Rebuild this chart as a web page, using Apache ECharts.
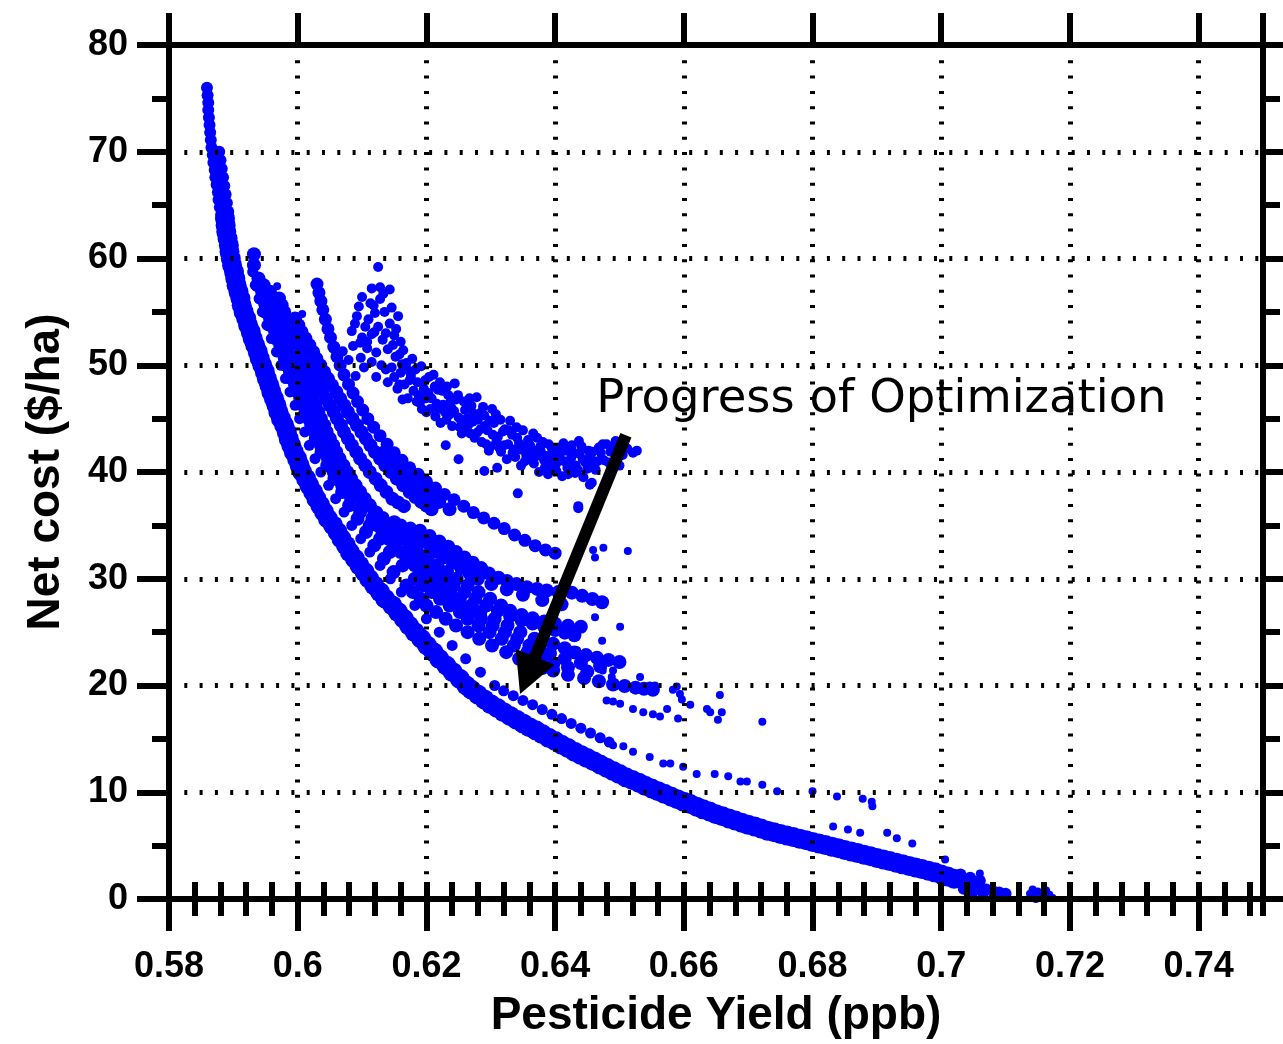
<!DOCTYPE html>
<html>
<head>
<meta charset="utf-8">
<script src="https://cdn.jsdelivr.net/npm/echarts@6/dist/echarts.min.js"></script>
<style>
html,body{margin:0;padding:0;background:#fff;}
#chart{width:1283px;height:1044px;}
</style>
</head>
<body>
<div id="chart"></div>
<script>
// ---- axis ticks ----
var xTicks = [0.58, 0.60, 0.62, 0.64, 0.66, 0.68, 0.70, 0.72, 0.74];
var yTicks = [0, 10, 20, 30, 40, 50, 60, 70, 80];

// ---- final front (dense lowest band) ----
var frontA = [[0.5887,63.75],[0.5888,63.125],[0.5889,62.5],[0.5891,61.875],[0.5893,61.25],[0.5894,60.625],[0.5896,60],[0.5898,59.375],[0.5901,58.75],[0.5903,58.125],[0.5905,57.5],[0.5908,56.875],[0.5911,56.25],[0.5913,55.625],[0.5916,55],[0.5920,54.375],[0.5923,53.75],[0.5927,53.125],[0.5930,52.5],[0.5934,51.875],[0.5938,51.25],[0.5941,50.625],[0.5945,50],[0.5949,49.375],[0.5952,48.75],[0.5956,48.125],[0.5959,47.5],[0.5963,46.875],[0.5967,46.25],[0.5970,45.625],[0.5974,45],[0.5979,44.375],[0.5983,43.75],[0.5986,43.125],[0.5990,42.5],[0.5994,41.875],[0.5999,41.25],[0.6003,40.625],[0.6007,40],[0.6013,39.375],[0.6018,38.75],[0.6024,38.125],[0.6029,37.5],[0.6035,36.875],[0.6041,36.25],[0.6047,35.625],[0.6055,35],[0.6062,34.375],[0.6068,33.75],[0.6075,33.125],[0.6081,32.5],[0.6089,31.875],[0.6096,31.25],[0.6104,30.625],[0.6111,30],[0.6119,29.375],[0.6128,28.75],[0.6136,28.125],[0.6147,27.5],[0.6156,26.875],[0.6165,26.25],[0.6173,25.625],[0.6182,25],[0.6192,24.375],[0.6201,23.75],[0.6211,23.125],[0.6220,22.5],[0.6231,21.875],[0.6241,21.25],[0.6252,20.625],[0.6262,20],[0.627,19.6],[0.628,19.15],[0.629,18.7],[0.630,18.25],[0.631,17.9],[0.632,17.5],[0.633,17.15],[0.634,16.8],[0.635,16.45],[0.636,16.1],[0.637,15.8],[0.638,15.45],[0.639,15.1],[0.640,14.8],[0.641,14.45],[0.642,14.15],[0.643,13.8],[0.644,13.5],[0.645,13.2],[0.646,12.9],[0.647,12.6],[0.648,12.3],[0.649,12.0],[0.650,11.7],[0.651,11.4],[0.652,11.15],[0.653,10.9],[0.654,10.6],[0.655,10.35],[0.656,10.1],[0.657,9.85],[0.658,9.6],[0.659,9.35],[0.660,9.1],[0.661,8.9],[0.662,8.65],[0.663,8.4],[0.664,8.2],[0.665,7.95],[0.666,7.75],[0.667,7.55],[0.668,7.35],[0.669,7.15],[0.670,6.95],[0.671,6.8],[0.672,6.6],[0.673,6.4],[0.674,6.25],[0.675,6.1],[0.676,5.95],[0.677,5.8],[0.678,5.65],[0.679,5.5],[0.680,5.35],[0.681,5.2],[0.682,5.05],[0.683,4.9],[0.684,4.75],[0.685,4.6],[0.686,4.45],[0.687,4.3],[0.688,4.15],[0.689,4.0],[0.690,3.85],[0.691,3.7],[0.692,3.55],[0.693,3.4],[0.694,3.25],[0.695,3.1],[0.696,2.95],[0.697,2.8],[0.698,2.65],[0.699,2.5],[0.700,2.3],[0.701,2.1],[0.702,1.9]];
var frontA_tip = [[0.5859,76.0],[0.5860,75.3],[0.5861,74.6],[0.5861,73.9],[0.5862,73.2],[0.5863,72.5],[0.5864,71.8],[0.5865,71.1],[0.5866,70.4],[0.5868,69.7],[0.5869,69.0],[0.5871,68.3],[0.5872,67.6],[0.5874,66.9],[0.5876,66.2],[0.5877,65.5],[0.5879,64.8],[0.5881,64.1],[0.5883,63.4],[0.5878,70.0],[0.5880,69.2],[0.5882,68.4],[0.5884,67.6],[0.5886,66.8],[0.5888,66.0],[0.5890,65.2],[0.5892,64.4]];
var frontA_end = [[0.7030,1.65],[0.7040,1.45],[0.7050,1.25],[0.7060,1.05],[0.7070,0.9],[0.7080,0.75],[0.7090,0.6],[0.7100,0.5],[0.7035,0.95],[0.7050,0.75],[0.7065,0.6],[0.7030,2.3],[0.7045,2.0],[0.7060,1.7]];

// ---- earlier generation fronts (strands) ----
var strandB0 = [[0.5930,58.75],[0.5934,57.5],[0.5940,56.25],[0.5945,55],[0.5952,53.75],[0.5959,52.5],[0.5967,51.25],[0.5974,50],[0.5981,48.75],[0.5988,47.5],[0.5996,46.25],[0.6003,45],[0.6011,43.75],[0.6018,42.5],[0.6027,41.25],[0.6036,40],[0.6048,38.75],[0.6059,37.5],[0.6072,36.25],[0.6084,35],[0.6098,33.75],[0.6112,32.5],[0.6128,31.25],[0.6144,30],[0.6161,28.75],[0.6182,27.5],[0.6200,26.25],[0.6220,25],[0.6240,23.75],[0.6261,22.5],[0.6284,21.25],[0.6306,20],[0.6320,19.5],[0.6335,19.05],[0.6350,18.6],[0.6365,18.2],[0.6380,17.75],[0.6395,17.3],[0.6410,16.9],[0.6425,16.45],[0.6440,16.0],[0.6455,15.55],[0.6470,15.1],[0.6484,14.7]];
var strandB1 = [[0.5932,60.4],[0.5932,59.375],[0.5939,58.125],[0.5945,56.875],[0.5950,55.625],[0.5957,54.375],[0.5965,53.125],[0.5973,51.875],[0.5980,50.625],[0.5988,49.375],[0.5996,48.125],[0.6004,46.875],[0.6012,45.625],[0.6021,44.375],[0.6028,43.125],[0.6037,41.875],[0.6046,40.625],[0.6057,39.375],[0.6069,38.125],[0.6080,36.875],[0.6093,35.625],[0.6106,34.375],[0.6119,33.125],[0.6134,31.875],[0.6149,30.625],[0.6169,29.375],[0.6179,28.75],[0.6191,28.125],[0.6200,27.5],[0.6215,26.875],[0.6230,26.25],[0.6246,25.625],[0.6264,25],[0.6282,24.375],[0.6302,23.75],[0.6324,23.125],[0.6344,22.5],[0.6365,21.9],[0.6381,21.65],[0.6397,21.4],[0.6420,21.0],[0.6445,20.7],[0.6468,20.4],[0.6490,20.1],[0.6508,19.95],[0.6525,19.8],[0.6538,19.7],[0.6552,19.6]];
var strandBf1 = [[0.5938,57.5],[0.5944,56.25],[0.5950,55],[0.5958,53.75],[0.5966,52.5],[0.5975,51.25],[0.5983,50],[0.5991,48.75],[0.6000,47.5],[0.6009,46.25],[0.6017,45],[0.6027,43.75],[0.6036,42.5],[0.6047,41.25],[0.6056,40],[0.6069,38.75],[0.6083,37.5],[0.6097,36.25],[0.6112,35],[0.6128,33.75],[0.6143,32.5],[0.6163,31.25],[0.6182,30],[0.6194,29.375],[0.6208,28.75],[0.6221,28.125],[0.6236,27.5],[0.6252,26.875],[0.6264,26.25],[0.6281,25.625],[0.6298,25],[0.6317,24.375],[0.6336,23.75],[0.6357,23.125],[0.6378,22.5],[0.6397,22.0],[0.6420,21.7],[0.6450,21.3]];
var strandBm2 = [[0.6194,30.0],[0.6208,29.375],[0.6222,28.75],[0.6237,28.125],[0.6253,27.5],[0.6269,26.875],[0.6285,26.25],[0.6303,25.625],[0.6322,25.0],[0.6341,24.375],[0.6360,23.75],[0.6376,23.3],[0.6392,23.0],[0.6415,22.5],[0.6440,22.1],[0.6470,21.8]];
var strandB2 = [[0.5945,56.875],[0.5952,55.625],[0.5961,54.375],[0.5969,53.125],[0.5978,51.875],[0.5987,50.625],[0.5995,49.375],[0.6004,48.125],[0.6012,46.875],[0.6021,45.625],[0.6031,44.375],[0.6040,43.125],[0.6050,41.875],[0.6061,40.625],[0.6073,39.375],[0.6086,38.125],[0.6101,36.875],[0.6116,35.625],[0.6124,35.0],[0.6132,34.375],[0.6141,33.75],[0.6150,33.125],[0.6160,32.5],[0.6170,31.875],[0.6182,31.25],[0.6194,30.625],[0.6205,30],[0.6221,29.375],[0.6237,28.75],[0.6252,28.125],[0.6270,27.5],[0.6284,26.875],[0.6306,26.25],[0.6326,25.625],[0.6346,25],[0.6368,24.375],[0.6382,24.15],[0.6397,23.9],[0.6415,23.5],[0.6430,23.1],[0.6448,22.85],[0.6465,22.6],[0.6483,22.4],[0.6500,22.2]];
var strandBm3 = [[0.6173,32.5],[0.6186,31.875],[0.6200,31.25],[0.6213,30.625],[0.6226,30.0],[0.6242,29.375],[0.6259,28.75],[0.6276,28.125],[0.6293,27.5],[0.6311,27.0],[0.6330,26.5],[0.6348,26.1],[0.6365,25.8],[0.6383,25.5],[0.6400,25.2],[0.6415,24.95],[0.6430,24.7]];
var strandBf2 = [[0.5947,57.5],[0.5951,56.875],[0.5955,56.25],[0.5959,55.625],[0.5962,55],[0.5967,54.375],[0.5971,53.75],[0.5975,53.125],[0.5979,52.5],[0.5984,51.875],[0.5988,51.25],[0.5993,50.625],[0.5997,50],[0.6002,49.375],[0.6006,48.75],[0.6011,48.125],[0.6015,47.5],[0.6020,46.875],[0.6025,46.25],[0.6030,45.625],[0.6034,45],[0.6039,44.375],[0.6044,43.75],[0.6049,43.125],[0.6053,42.5],[0.6059,41.875],[0.6064,41.25],[0.6069,40.625],[0.6074,40],[0.6081,39.375],[0.6088,38.75],[0.6095,38.125],[0.6102,37.5],[0.6111,36.875],[0.6119,36.25],[0.6127,35.625],[0.6135,35],[0.6148,34.375],[0.6161,33.75],[0.6174,33.125],[0.6186,32.5],[0.6202,31.875],[0.6217,31.25],[0.6232,30.625],[0.6247,30],[0.6264,29.375],[0.6281,28.75],[0.6299,28.125],[0.6316,27.5],[0.6330,27.0],[0.6348,26.6],[0.6365,26.3],[0.6383,26.0],[0.6400,25.8],[0.6420,25.6],[0.6440,25.5]];
var strandBm4 = [[0.6148,35.0],[0.6164,34.5],[0.6180,34.0],[0.6193,33.5],[0.6206,33.0],[0.6217,32.5],[0.6228,32.0],[0.6241,31.5],[0.6254,31.0],[0.6267,30.5],[0.6280,30.0],[0.6301,29.5],[0.6325,29.0],[0.6350,28.5],[0.6380,28.0],[0.6410,27.6]];
var strandB4 = [[0.5957,56.875],[0.5960,56.25],[0.5964,55.625],[0.5968,55],[0.5973,54.375],[0.5977,53.75],[0.5981,53.125],[0.5985,52.5],[0.5989,51.875],[0.5994,51.25],[0.5998,50.625],[0.6002,50],[0.6006,49.375],[0.6010,48.75],[0.6015,48.125],[0.6019,47.5],[0.6023,46.875],[0.6028,46.25],[0.6032,45.625],[0.6036,45],[0.6041,44.375],[0.6045,43.75],[0.6050,43.125],[0.6055,42.5],[0.6060,41.875],[0.6065,41.25],[0.6071,40.625],[0.6077,40],[0.6083,39.375],[0.6090,38.75],[0.6097,38.125],[0.6104,37.5],[0.6112,36.875],[0.6122,36.2],[0.6132,35.7],[0.6150,35.3],[0.6160,35.0],[0.6175,34.7],[0.6190,34.5],[0.6205,34.0],[0.6220,33.5],[0.6234,33.0],[0.6246,32.5],[0.6259,32.0],[0.6272,31.5],[0.6285,31.0],[0.6297,30.5],[0.6312,30.1],[0.6325,29.8],[0.6340,29.5],[0.6356,29.2],[0.6372,29.05],[0.6387,28.9],[0.6405,28.75],[0.6426,28.7],[0.6442,28.4],[0.6458,28.1],[0.6473,27.8]];
var strandB5 = [[0.5971,56.25],[0.5975,55.625],[0.5979,55],[0.5984,54.375],[0.5988,53.75],[0.5993,53.125],[0.5998,52.5],[0.6003,51.875],[0.6008,51.25],[0.6013,50.625],[0.6018,50],[0.6023,49.375],[0.6028,48.75],[0.6033,48.125],[0.6038,47.5],[0.6044,46.875],[0.6050,46.25],[0.6056,45.625],[0.6061,45],[0.6067,44.375],[0.6072,43.75],[0.6078,43.125],[0.6084,42.5],[0.6091,41.875],[0.6097,41.25],[0.6105,40.625],[0.6112,40],[0.6121,39.375],[0.6129,38.75],[0.6138,38.125],[0.6147,37.5],[0.6156,37.15],[0.6165,36.8]];
var strandB6 = [[0.5996,54.375],[0.6001,53.75],[0.6006,53.125],[0.6012,52.5],[0.6018,51.875],[0.6024,51.25],[0.6029,50.625],[0.6035,50],[0.6041,49.375],[0.6047,48.75],[0.6053,48.125],[0.6060,47.5],[0.6066,46.875],[0.6072,46.25],[0.6078,45.625],[0.6085,45],[0.6092,44.375],[0.6099,43.75],[0.6106,43.125],[0.6113,42.5],[0.6120,41.875],[0.6128,41.25],[0.6136,40.625],[0.6145,40],[0.6154,39.375],[0.6164,38.75],[0.6174,38.125],[0.6183,37.65],[0.6192,37.2],[0.6200,36.85],[0.6208,36.5]];
var strandBm6 = [[0.6135,41.875],[0.6145,41.25],[0.6155,40.625],[0.6165,40.0],[0.6175,39.375],[0.6186,38.75],[0.6198,38.125],[0.6209,37.6],[0.6220,37.2],[0.6236,36.5]];
var bandC = [[0.6030,57.6],[0.6033,56.8],[0.6036,56.0],[0.6039,55.2],[0.6043,54.3],[0.6047,53.4],[0.6051,52.6],[0.6056,51.7],[0.6061,50.8],[0.6066,50.0],[0.6072,49.1],[0.6079,48.2],[0.6086,47.4],[0.6093,46.6],[0.6101,45.8],[0.6109,45.0],[0.6118,44.2],[0.6128,43.4],[0.6139,42.6],[0.6150,41.8],[0.6162,41.1],[0.6174,40.4],[0.6187,39.8],[0.6200,39.1],[0.6214,38.5],[0.6228,37.9],[0.6243,37.4],[0.6258,36.8],[0.6273,36.2],[0.6289,35.7],[0.6305,35.2],[0.6321,34.7],[0.6337,34.1],[0.6353,33.6],[0.6369,33.1],[0.6385,32.7],[0.6400,32.4]];
var cloudD = [[0.6125,59.2],[0.6115,57.2],[0.6128,57.3],[0.6143,57.1],[0.6100,56.4],[0.6128,56.2],[0.6118,55.6],[0.6092,54.6],[0.6156,54.6],[0.6135,55.0],[0.6110,54.3],[0.6084,53.2],[0.6125,53.6],[0.6143,53.9],[0.6086,51.8],[0.6070,51.3],[0.6100,52.6],[0.6115,52.9],[0.6132,52.4],[0.6150,52.8],[0.6108,51.6],[0.6122,51.2],[0.6140,51.5],[0.6158,51.0],[0.6098,50.7],[0.6115,50.3],[0.6130,50.0],[0.6146,49.8],[0.6162,50.1],[0.6095,55.5],[0.6105,53.6],[0.6120,54.9],[0.6108,52.2],[0.6148,51.9],[0.6160,52.2],[0.6137,49.6],[0.6103,49.8],[0.6122,48.9],[0.6140,48.4],[0.6079,50.5],[0.6090,49.0],[0.6150,48.9],[0.6155,47.8],[0.6160,49.3],[0.6166,48.2],[0.6171,46.9],[0.6176,49.0],[0.6180,47.6],[0.6186,48.4],[0.6190,46.5],[0.6196,47.8],[0.6200,45.6],[0.6204,48.9],[0.6208,46.9],[0.6214,45.2],[0.6218,47.7],[0.6222,44.6],[0.6226,46.3],[0.6232,48.0],[0.6236,45.4],[0.6240,44.3],[0.6246,46.8],[0.6250,45.1],[0.6255,43.6],[0.6260,45.8],[0.6265,44.4],[0.6270,46.2],[0.6275,43.2],[0.6280,44.9],[0.6286,42.8],[0.6290,45.3],[0.6295,43.9],[0.6300,42.4],[0.6305,44.6],[0.6311,43.3],[0.6316,41.9],[0.6322,44.0],[0.6327,42.6],[0.6333,43.5],[0.6338,41.4],[0.6344,42.7],[0.6350,43.9],[0.6355,41.6],[0.6361,42.5],[0.6367,40.8],[0.6372,43.2],[0.6378,41.9],[0.6384,40.4],[0.6390,42.6],[0.6396,41.3],[0.6402,40.1],[0.6408,42.3],[0.6414,41.0],[0.6420,39.8],[0.6426,42.5],[0.6432,40.6],[0.6438,41.7],[0.6444,39.5],[0.6452,42.0],[0.6460,40.8],[0.6468,42.3],[0.6476,41.1],[0.6490,42.4],[0.6505,41.6],[0.6521,41.8],[0.6527,42.0],[0.6152,50.8],[0.6158,48.2],[0.6163,46.8],[0.6169,50.2],[0.6174,48.6],[0.6183,49.6],[0.6188,47.2],[0.6193,45.9],[0.6198,48.6],[0.6203,47.4],[0.6211,49.1],[0.6216,46.4],[0.6221,48.4],[0.6229,45.6],[0.6234,47.2],[0.6239,46.0],[0.6244,48.3],[0.6252,44.2],[0.6258,46.6],[0.6263,45.0],[0.6268,43.6],[0.6273,45.5],[0.6278,47.0],[0.6284,44.0],[0.6288,46.1],[0.6293,42.6],[0.6298,44.8],[0.6303,43.5],[0.6308,45.4],[0.6314,42.2],[0.6319,43.8],[0.6325,41.2],[0.6330,44.8],[0.6336,42.1],[0.6341,43.2],[0.6347,40.6],[0.6352,42.4],[0.6358,43.0],[0.6364,41.2],[0.6370,42.0],[0.6375,40.0],[0.6381,42.8],[0.6387,41.5],[0.6393,40.6],[0.6399,42.0],[0.6405,41.0],[0.6411,39.6],[0.6417,42.0],[0.6423,40.9],[0.6429,41.8],[0.6435,40.2],[0.6441,42.4],[0.6447,40.9],[0.6455,41.5],[0.6463,40.2],[0.6471,41.8],[0.6480,42.6],[0.6483,40.9],[0.6497,41.2],[0.6512,42.2],[0.6342,38.0],[0.6436,36.8],[0.6454,38.8],[0.6457,39.0],[0.6436,36.6],[0.6290,40.1],[0.6310,40.4],[0.6250,41.2],[0.6230,42.5],[0.6089,53.9],[0.6097,52.1],[0.6113,55.8],[0.6133,56.7],[0.6119,53.1],[0.6137,53.0],[0.6146,55.4],[0.6153,53.4],[0.6164,51.4],[0.6170,49.6],[0.6178,50.6],[0.6185,46.6],[0.6192,49.9],[0.6199,46.9],[0.6206,45.9],[0.6213,48.0],[0.6219,45.9],[0.6225,47.6],[0.6231,44.9],[0.6237,46.5],[0.6243,45.7],[0.6249,47.2],[0.6254,44.8],[0.6261,44.0],[0.6267,46.9],[0.6272,44.7],[0.6279,43.7],[0.6285,45.6],[0.6291,44.3],[0.6297,42.0],[0.6302,45.9],[0.6309,42.9],[0.6315,44.9],[0.6321,42.5],[0.6328,43.9],[0.6334,41.8],[0.6340,44.2],[0.6346,42.1],[0.6353,41.0],[0.6359,42.0],[0.6366,43.6],[0.6371,41.5],[0.6377,42.4],[0.6383,41.1],[0.6389,39.8],[0.6395,42.2],[0.6401,40.7],[0.6407,41.6],[0.6413,42.7],[0.6419,40.4],[0.6425,41.3],[0.6431,39.9],[0.6437,42.9],[0.6443,41.2],[0.6450,40.3],[0.6458,41.9],[0.6466,41.0],[0.6474,42.6],[0.6486,41.9],[0.6494,42.9],[0.6500,40.6]];
var scattered = [[0.5968,57.4],[0.6007,54.8],[0.6475,32.9],[0.6513,32.6],[0.6462,32.0],[0.6459,32.7],[0.6434,23.3],[0.6465,22.7],[0.6439,22.0],[0.6490,21.4],[0.6583,19.6],[0.6426,28.7],[0.6442,28.4],[0.6473,27.8],[0.6462,26.4],[0.6501,25.5],[0.6722,16.6],[0.6636,17.8],[0.6641,17.5],[0.6653,16.8],[0.6656,19.1],[0.6659,17.5],[0.6589,19.9],[0.6594,19.2],[0.6597,18.7],[0.6591,16.9],[0.6610,18.2],[0.6532,20.8],[0.6547,20.0],[0.6555,20.0],[0.6574,17.8],[0.6563,17.1],[0.6552,17.3],[0.6537,17.5],[0.6521,17.8],[0.6501,18.3],[0.6490,18.5],[0.6480,18.6],[0.6496,20.0],[0.6488,20.8],[0.6474,21.4],[0.6470,22.4],[0.6473,24.2],[0.6490,14.4],[0.6506,14.3],[0.6521,13.8],[0.6547,13.3],[0.6568,12.7],[0.6579,12.7],[0.6599,12.4],[0.6620,11.7],[0.6648,11.7],[0.6669,11.5],[0.6688,11.0],[0.6698,11.0],[0.6722,10.7],[0.6745,10.1],[0.6800,10.1],[0.6838,9.6],[0.6878,9.4],[0.6892,9.1],[0.6893,8.7],[0.6832,6.8],[0.6855,6.5],[0.6874,6.2],[0.6916,6.2],[0.6931,5.7],[0.6955,5.2],[0.7006,3.7],[0.7060,2.4],[0.7138,0.5],[0.7145,0.3],[0.7150,0.7],[0.7157,0.2],[0.7163,0.8],[0.7168,0.4],[0.7173,0.1],[0.7147,0.0],[0.7160,0.0],[0.7142,0.9]];

// ---- annotation (data coordinates) ----
var annotationText = 'Progress of Optimization';
var annotationAnchor = [0.6464, 44.57];
var arrowFrom = [0.6510, 43.45];
var arrowTo = [0.63455, 19.21];

var BLUE = '#0000ff';
var FONT = '"Liberation Sans", Arial, Helvetica, sans-serif';

var chart = echarts.init(document.getElementById('chart'), null, {renderer: 'canvas'});

function sc(name, data, size) {
  return {
    type: 'scatter', name: name, data: data, symbol: 'circle', symbolSize: size,
    itemStyle: {color: BLUE, opacity: 1}, xAxisIndex: 0, yAxisIndex: 0,
    emphasis: {disabled: true}, silent: true, z: 2, large: false, progressive: 0
  };
}

var gridLine = {show: true, lineStyle: {color: '#000', width: 5, type: [3, 12.3]}};

var xMain = {
  type: 'value', min: 0.58, max: 0.75, interval: 0.02, position: 'bottom', z: 5,
  axisLine: {show: true, onZero: false, lineStyle: {color: '#000', width: 6}},
  axisTick: {show: true, inside: false, length: 32, lineStyle: {color: '#000', width: 6}},
  axisLabel: {show: true, margin: 50, color: '#000', fontSize: 36, fontWeight: 'bold', fontFamily: FONT,
    showMaxLabel: false,
    formatter: function (v) { var r = Math.round(v * 100) / 100; return xTicks.indexOf(r) >= 0 ? String(r) : ''; }},
  splitLine: gridLine,
  name: 'Pesticide Yield (ppb)', nameLocation: 'middle', nameGap: 94,
  nameTextStyle: {color: '#000', fontSize: 46, fontWeight: 'bold', fontFamily: FONT}
};
function minorX(pos) {
  return {type: 'value', min: 0.58, max: 0.75, interval: 0.004, position: pos, z: 5,
    axisLine: {show: false}, axisLabel: {show: false}, splitLine: {show: false},
    axisTick: {show: true, inside: false, length: 17, lineStyle: {color: '#000', width: 6}}};
}
var xTop = {
  type: 'value', min: 0.58, max: 0.75, interval: 0.02, position: 'top', z: 5,
  axisLine: {show: true, onZero: false, lineStyle: {color: '#000', width: 6}},
  axisTick: {show: true, inside: false, length: 32, lineStyle: {color: '#000', width: 6}},
  axisLabel: {show: false}, splitLine: {show: false}
};
var yMain = {
  type: 'value', min: 0, max: 80, interval: 10, position: 'left', z: 5,
  axisLine: {show: true, onZero: false, lineStyle: {color: '#000', width: 6}},
  axisTick: {show: true, inside: false, length: 32, lineStyle: {color: '#000', width: 6}},
  minorTick: {show: true, splitNumber: 2, length: 17, lineStyle: {color: '#000', width: 6}},
  axisLabel: {show: true, margin: 41, color: '#000', fontSize: 36, fontWeight: 'bold', fontFamily: FONT,
    formatter: function (v) { return yTicks.indexOf(v) >= 0 ? String(v) : ''; }},
  splitLine: gridLine,
  name: 'Net cost ($/ha)', nameLocation: 'middle', nameGap: 100, nameRotate: 90,
  nameTextStyle: {color: '#000', fontSize: 46, fontWeight: 'bold', fontFamily: FONT}
};
var yRight = {
  type: 'value', min: 0, max: 80, interval: 10, position: 'right', z: 5,
  axisLine: {show: true, onZero: false, lineStyle: {color: '#000', width: 6}},
  axisTick: {show: true, inside: false, length: 32, lineStyle: {color: '#000', width: 6}},
  minorTick: {show: true, splitNumber: 2, length: 17, lineStyle: {color: '#000', width: 6}},
  axisLabel: {show: false}, splitLine: {show: false}
};

chart.setOption({
  animation: false,
  backgroundColor: '#fff',
  grid: {left: 169, right: 20, top: 45, bottom: 141, containLabel: false},
  xAxis: [xMain, minorX('bottom'), xTop, minorX('top')],
  yAxis: [yMain, yRight],
  series: [
    sc('frontA', frontA, 20),
    sc('frontA_tip', frontA_tip, 12),
    sc('frontA_end', frontA_end, 12),
    sc('strandB0', strandB0, 11),
    sc('strandB1', strandB1, 14),
    sc('strandBf1', strandBf1, 14),
    sc('strandBm2', strandBm2, 14),
    sc('strandB2', strandB2, 14),
    sc('strandBm3', strandBm3, 14),
    sc('strandBf2', strandBf2, 14),
    sc('strandBm4', strandBm4, 14),
    sc('strandB4', strandB4, 14),
    sc('strandB5', strandB5, 14),
    sc('strandB6', strandB6, 14),
    sc('strandBm6', strandBm6, 14),
    sc('bandC', bandC, 13),
    sc('cloudD', cloudD, 10),
    sc('scattered', scattered, 8)
  ]
});

// annotation arrow + text placed through the chart's own scales
var pFrom = chart.convertToPixel({xAxisIndex: 0, yAxisIndex: 0}, arrowFrom);
var pTo = chart.convertToPixel({xAxisIndex: 0, yAxisIndex: 0}, arrowTo);
var pText = chart.convertToPixel({xAxisIndex: 0, yAxisIndex: 0}, annotationAnchor);
var dx = pTo[0] - pFrom[0], dy = pTo[1] - pFrom[1];
var len = Math.sqrt(dx * dx + dy * dy);
var ux = dx / len, uy = dy / len;
var headLen = 40, headHalf = 21;
var bx = pTo[0] - ux * headLen, by = pTo[1] - uy * headLen;
chart.setOption({
  graphic: [
    {type: 'line', z: 100, shape: {x1: pFrom[0], y1: pFrom[1], x2: bx + ux * 2, y2: by + uy * 2},
      style: {stroke: '#000', lineWidth: 12, lineCap: 'butt'}},
    {type: 'polygon', z: 100, shape: {points: [[pTo[0], pTo[1]], [bx - uy * headHalf, by + ux * headHalf], [bx + uy * headHalf, by - ux * headHalf]]},
      style: {fill: '#000'}},
    {type: 'text', z: 100, x: pText[0], y: pText[1],
      style: {text: annotationText, fill: '#000', font: '46.5px "DejaVu Sans", sans-serif', textAlign: 'left', textVerticalAlign: 'bottom'}}
  ]
});
</script>
</body>
</html>
